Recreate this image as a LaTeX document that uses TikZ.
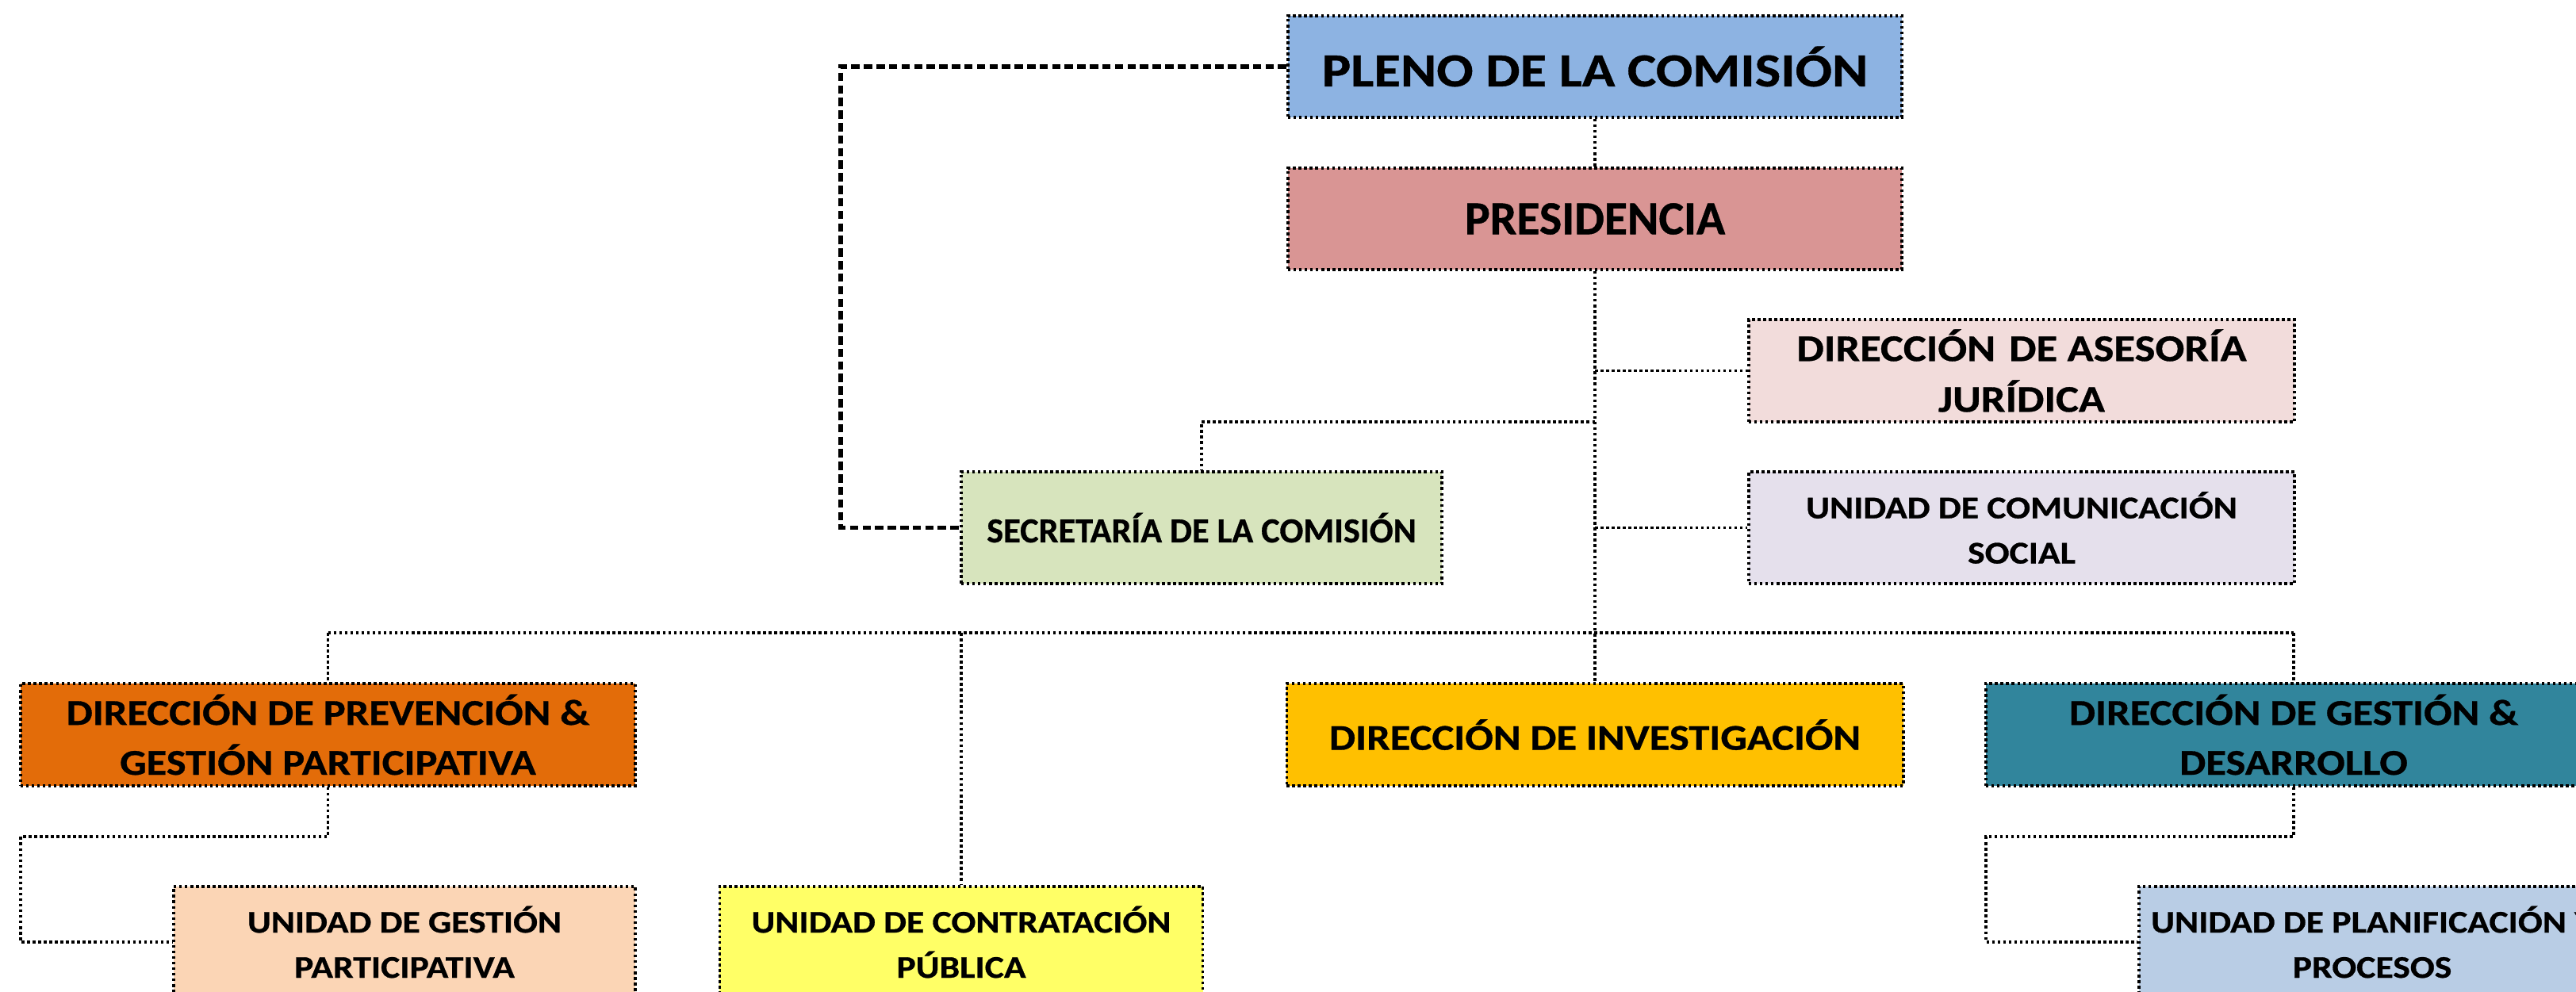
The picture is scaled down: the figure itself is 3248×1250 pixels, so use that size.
\documentclass[tikz,border=0pt]{standalone}
\usepackage{fontspec}
\setmainfont{Carlito}
\newfontfamily\fwide[FakeStretch=1.15,FakeBold=0.7]{Carlito}
\newfontfamily\fnorm[FakeBold=0.7]{Carlito}
\definecolor{cpleno}{HTML}{8DB3E2}
\definecolor{cpres}{HTML}{D99594}
\definecolor{cases}{HTML}{F2DCDB}
\definecolor{ccom}{HTML}{E5E0EC}
\definecolor{csecr}{HTML}{D7E4BD}
\definecolor{cprev}{HTML}{E36C09}
\definecolor{cinv}{HTML}{FFC000}
\definecolor{cgest}{HTML}{31859C}
\definecolor{cugest}{HTML}{FBD5B5}
\definecolor{ccontr}{HTML}{FFFF66}
\definecolor{cplan}{HTML}{B9CDE5}
\tikzset{
  box/.style={draw=black, line width=1pt, dash pattern=on 1pt off 1pt, anchor=center, inner sep=0pt, align=center},
  big/.style={font=\fwide\bfseries\fontsize{17}{20}\selectfont},
  mid/.style={font=\fwide\bfseries\fontsize{13}{17.9}\selectfont},
  small/.style={font=\fwide\bfseries\fontsize{11.3}{16.2}\selectfont},
  conn/.style={draw=black, line width=0.9pt, dash pattern=on 1pt off 1pt},
  secline/.style={draw=black, line width=1.5pt, dash pattern=on 3pt off 1.5pt}
}
\begin{document}
\begin{tikzpicture}[x=0.01cm,y=-0.01cm]
\useasboundingbox (0,0) rectangle (3248,1250);
\clip (0,0) rectangle (3248,1250);
% nodes
\node[box, big, fill=cpleno, minimum width=7.74cm, minimum height=1.28cm] (pleno) at (2011,84) {PLENO DE LA COMISIÓN};
\node[box, font=\fnorm\bfseries\fontsize{17}{20}\selectfont, fill=cpres, minimum width=7.74cm, minimum height=1.28cm] (pres) at (2011,276) {PRESIDENCIA};
\node[box, font=\fwide\bfseries\fontsize{13.5}{18.2}\selectfont, fill=cases, minimum width=6.88cm, minimum height=1.29cm] (ases) at (2549,467.5) {DIRECCIÓN\hspace{0.17cm}DE ASESORÍA\\JURÍDICA};
\node[box, small, fill=ccom, minimum width=6.88cm, minimum height=1.41cm] (com) at (2549,665.5) {UNIDAD DE COMUNICACIÓN\\SOCIAL};
\node[box, font=\fnorm\bfseries\fontsize{12.6}{16}\selectfont, fill=csecr, minimum width=6.06cm, minimum height=1.41cm] (secr) at (1515,665.5) {SECRETARÍA DE LA COMISIÓN};
\node[box, mid, fill=cprev, minimum width=7.75cm, minimum height=1.29cm] (prev) at (413.5,926.5) {DIRECCIÓN DE PREVENCIÓN \&\\GESTIÓN PARTICIPATIVA};
\node[box, mid, fill=cinv, minimum width=7.77cm, minimum height=1.29cm] (inv) at (2011,926.5) {DIRECCIÓN DE INVESTIGACIÓN};
\node[box, mid, fill=cgest, minimum width=7.76cm, minimum height=1.29cm] (gest) at (2892,926.5) {DIRECCIÓN DE GESTIÓN \&\\DESARROLLO};
\node[box, small, fill=cugest, minimum width=5.82cm, minimum height=1.40cm] (ugest) at (510,1188) {UNIDAD DE GESTIÓN\\PARTICIPATIVA};
\node[box, small, fill=ccontr, minimum width=6.09cm, minimum height=1.40cm] (contr) at (1212,1188) {UNIDAD DE CONTRATACIÓN\\PÚBLICA};
\node[box, small, fill=cplan, minimum width=5.88cm, minimum height=1.40cm] (plan) at (2991,1188) {UNIDAD DE PLANIFICACIÓN Y\\PROCESOS};
% connectors
\coordinate (sj) at (2011,532);
\coordinate (busL) at (413.5,798);
\coordinate (busR) at (2892,798);
\coordinate (p1) at (26,1055);
\coordinate (g1) at (2504,1055);
\coordinate (d1) at (1060,84);
\draw[conn] (pleno.south) -- (pres.north);
\draw[conn] (pres.south) -- (inv.north);
\draw[conn] (pres.south |- ases.west) -- (ases.west);
\draw[conn] (sj) -| (secr.north);
\draw[conn] (pres.south |- com.west) -- (com.west);
\draw[conn] (busL) -- (busR);
\draw[conn] (busL) -- (prev.north);
\draw[conn] (busR) -- (gest.north);
\draw[conn] (contr.north |- busL) -- (contr.north);
\draw[conn] (prev.south) |- (p1) |- (ugest.west);
\draw[conn] (gest.south) |- (g1) |- (plan.west);
\draw[secline] (pleno.west) -- (d1) |- (secr.west);
\end{tikzpicture}
\end{document}
